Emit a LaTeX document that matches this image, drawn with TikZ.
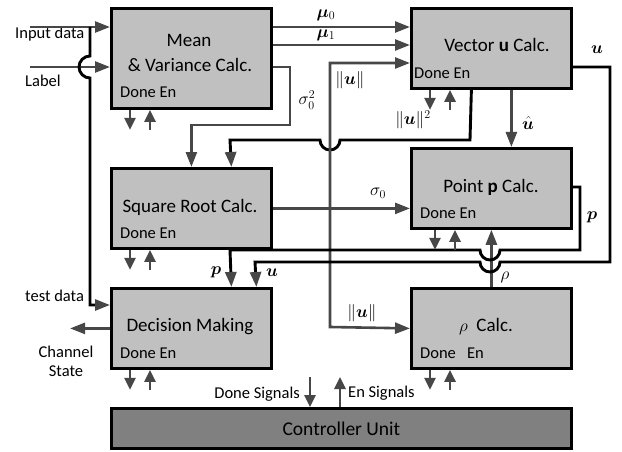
\documentclass[tikz,border=0pt]{standalone}
\usepackage{fontspec}
\setmainfont{Carlito}
\usepackage{bm}
\usetikzlibrary{arrows.meta}
\definecolor{boxgray}{HTML}{C0C0C0}
\definecolor{ctrlgray}{HTML}{808080}
\definecolor{lgray}{HTML}{474747}
\begin{document}
\begin{tikzpicture}[x=1pt,y=-1pt,
  blk/.style={draw=black, line width=2.8pt, fill=boxgray, minimum width=160pt, minimum height=80pt, inner sep=0pt, anchor=north west},
  ttl/.style={font=\fontsize{19}{22}\selectfont, inner sep=0pt},
  de/.style={font=\fontsize{16.5}{19}\selectfont, inner sep=0pt, anchor=west},
  lbl/.style={font=\fontsize{16.5}{19}\selectfont, inner sep=0pt},
  mlb/.style={font=\fontsize{17}{19}\selectfont, inner sep=0pt},
  gline/.style={draw=lgray, line width=2.6pt},
  bline/.style={draw=black, line width=2.9pt},
  tip/.style={-{Triangle[length=15pt,width=11pt,color=lgray]}},
  sarrow/.style={draw=lgray, line width=2.6pt, -{Triangle[length=12pt,width=11pt]}}
]
\useasboundingbox (0,0) rectangle (622,452);

% boxes
\node[blk, minimum height=100pt] (mv) at (110,7) {};
\node[blk] (vu) at (410,7) {};
\node[blk] (sr) at (110,167) {};
\node[blk] (pp) at (410,147) {};
\node[blk] (dm) at (110,287) {};
\node[blk] (rc) at (410,287) {};
\node[blk, fill=ctrlgray, minimum width=460pt, minimum height=40pt, font=\fontsize{19.5}{22}\selectfont] (cu) at (110,407) {Controller Unit};

% box texts
\node[ttl] (mvt1) at (189,40) {Mean};
\node[ttl] (mvt2) at (190,65) {\& Variance Calc.};
\node[de] (mvd) at (120,92) {Done En};
\node[ttl] (vut) at (497,45) {Vector \textbf{u} Calc.};
\node[de] (vud) at (414,73) {Done En};
\node[ttl] (srt) at (190,207) {Square Root Calc.};
\node[de] (srd) at (120,233) {Done En};
\node[ttl] (ppt) at (491,187) {Point \textbf{p} Calc.};
\node[de] (ppd) at (420,213) {Done En};
\node[ttl] (dmt) at (190,327) {Decision Making};
\node[de] (dmd) at (120,353) {Done En};
\node[ttl] (rct) at (486,327) {$\rho$\ \ Calc.};
\node[de] (rcd) at (420,353) {Done\ \ \ En};

% outside labels
\node[lbl, anchor=west] (lin) at (15,34) {Input data};
\node[lbl, anchor=west] (llb) at (25,81) {Label};
\node[lbl, anchor=west] (ltd) at (25,296) {test data};
\node[lbl, align=center] (lcs) at (66,361) {Channel\\State};
\node[lbl, anchor=east] (lds) at (300,394) {Done Signals};
\node[lbl, anchor=west] (les) at (348,393) {En Signals};

\node[mlb] (lm0) at (326,15) {$\bm{\mu}_0$};
\node[mlb] (lm1) at (326,35) {$\bm{\mu}_1$};
\node[mlb] (ls2) at (307,100) {$\sigma_0^2$};
\node[mlb] (lnu1) at (350,80) {$\|\bm{u}\|$};
\node[mlb] (lnu2) at (413,120) {$\|\bm{u}\|^2$};
\node[mlb] (luh) at (528,123) {$\hat{\bm{u}}$};
\node[mlb] (lu1) at (597,50) {$\bm{u}$};
\node[mlb] (ls0) at (378,193) {$\sigma_0$};
\node[mlb] (lp1) at (592,217) {$\bm{p}$};
\node[mlb] (lrho) at (505,277) {$\rho$};
\node[mlb] (lp2) at (216,272) {$\bm{p}$};
\node[mlb] (lu2) at (272,273) {$\bm{u}$};
\node[mlb] (lnu3) at (362,313) {$\|\bm{u}\|$};

% free-end coordinates
\coordinate (inS) at (30,27);
\coordinate (lbS) at (30,67);
\coordinate (tdS) at (90,27);
\coordinate (tdB) at (90,305);
\coordinate (bus) at (330,327);
\coordinate (ds) at (310,377);
\coordinate (es) at (340,377);

% inputs
\draw[gline, tip] (inS) -- (inS -| mv.west);
\draw[gline, tip] (lbS) -- (lbS -| mv.west);
\draw[bline, tip] (tdS) -- (90,56) arc[start angle=90, end angle=270, radius=11pt] -- (tdB) -- (tdB -| dm.west);
\draw[gline, tip] (dm.west) -- ++(-40,0) coordinate (csE);

% mean outputs
\draw[gline, tip] ([yshift=-20pt]mv.north east) -- ([yshift=-20pt]vu.north west);
\draw[gline, tip] ([yshift=-38pt]mv.north east) -- ([yshift=-38pt]vu.north west);
\draw[gline, tip] ([yshift=-60pt]mv.north east) -- (290,67) -- (290,125) -| (sr.north);

% ||u||^2
\draw[bline, tip] ([xshift=-20pt]vu.south) -- (470,140) -- (340,140) arc[start angle=0, end angle=-180, radius=10pt] -- (230,140) -- ([xshift=40pt]sr.north);

% u hat
\draw[gline, tip] ([xshift=20pt]vu.south) -- ([xshift=20pt]pp.north);

% ||u|| bus
\draw[gline, {Triangle[length=15pt,width=11pt]}-{Triangle[length=15pt,width=11pt]}] ([yshift=-56pt]vu.north west) -| (bus) -- (rc.west);

% sigma0
\draw[gline, tip] (sr.east) -- (sr.east -| pp.west);

% rho
\draw[gline, tip] (rc.north) -- (pp.south);

% u line
\draw[bline, tip] ([yshift=-60pt]vu.north east) -- (610,67) -- (610,262) -- (500,262) arc[start angle=0, end angle=-180, radius=10pt] -- (255,262) -- ([xshift=65pt]dm.north);

% p line
\draw[bline, tip] ([yshift=-40pt]pp.north east) -- (580,187) -- (580,250) -- (500,250) arc[start angle=0, end angle=-180, radius=10pt] -- (230,250) -- ([xshift=40pt]dm.north);

% done / en arrows
\foreach \b in {mv,vu,sr,dm,rc}{
  \draw[sarrow] ([xshift=20pt]\b.south west) -- ([xshift=20pt,yshift=-20pt]\b.south west);
  \draw[sarrow] ([xshift=40pt,yshift=-20pt]\b.south west) -- ([xshift=40pt]\b.south west);
}
\draw[sarrow] ([xshift=25pt]pp.south west) -- ([xshift=25pt,yshift=-20pt]pp.south west);
\draw[sarrow] ([xshift=45pt,yshift=-20pt]pp.south west) -- ([xshift=45pt]pp.south west);

% controller signals
\draw[sarrow] (ds) -- (ds |- cu.north);
\draw[sarrow] (es |- cu.north) -- (es);
\end{tikzpicture}
\end{document}
